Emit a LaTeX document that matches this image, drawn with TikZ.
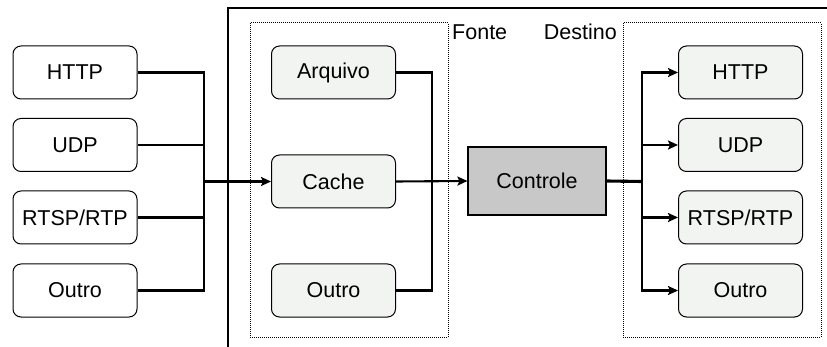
\documentclass[tikz,border=0pt]{standalone}
\usepackage{fontspec}
\setmainfont{Liberation Sans}
\usetikzlibrary{arrows.meta}
\definecolor{boxfill}{HTML}{F1F4F1}
\definecolor{ctrlfill}{HTML}{C8C8C8}
\tikzset{
  proto/.style={draw, line width=1pt, rounded corners=8pt, minimum width=124pt,
    minimum height=53pt, inner sep=0pt, font=\fontsize{21.5}{25}\selectfont},
  srcbox/.style={proto, fill=boxfill},
  ctrlbox/.style={draw, line width=1.1pt, fill=ctrlfill, minimum width=138pt,
    minimum height=68pt, inner sep=0pt, font=\fontsize{21.5}{25}\selectfont},
  group/.style={draw, densely dotted, line width=1pt, inner sep=0pt},
  grouplabel/.style={inner sep=0pt, font=\fontsize{21.5}{25}\selectfont},
  wire/.style={line width=2.1pt},
  bus/.style={line width=3.1pt},
  arr/.style={-{Stealth[length=10pt,width=9pt,inset=2pt]}}
}
\begin{document}
\begin{tikzpicture}[x=1pt,y=-1pt]
\useasboundingbox (0,0) rectangle (827,347);

% outer frame (only top and left edges fall inside the page)
\draw[line width=2.4pt] (228,347) -- (228,8) -- (827,8);

% dotted groups
\node[group, minimum width=198pt, minimum height=314pt] (fonte) at (349,180) {};
\node[group, minimum width=198pt, minimum height=314pt] (destino) at (722,180) {};
\node[grouplabel, anchor=west] (lblfonte) at (452,32) {Fonte};
\node[grouplabel, anchor=east] (lbldestino) at (617,32) {Destino};

% input protocols
\node[proto] (inhttp) at (75,72.5) {HTTP};
\node[proto] (inudp) at (75,145) {UDP};
\node[proto] (inrtsp) at (75,217.5) {RTSP/RTP};
\node[proto] (inoutro) at (75,290.5) {Outro};

% sources
\node[srcbox] (arquivo) at (333.5,72.5) {Arquivo};
\node[srcbox] (cache) at (333.5,181.5) {Cache};
\node[srcbox] (soutro) at (333.5,290.5) {Outro};

% control
\node[ctrlbox] (controle) at (537,181) {Controle};

% output protocols
\node[srcbox] (outhttp) at (740.5,72.5) {HTTP};
\node[srcbox] (outudp) at (740.5,145) {UDP};
\node[srcbox] (outrtsp) at (740.5,217.5) {RTSP/RTP};
\node[srcbox] (outoutro) at (740.5,290.5) {Outro};

% junction points
\coordinate (jin) at (204,181.5);
\coordinate (jsrc) at (432,181.5);
\coordinate (jout) at (642,181.5);

% inputs merge into the cache
\draw[wire] (inhttp.east) -| (jin);
\draw[wire] (inudp.east) -| (jin);
\draw[wire] (inrtsp.east) -| (jin);
\draw[wire] (inoutro.east) -| (jin);
\draw[bus, arr] (jin) -- (cache.west);

% sources merge into the control
\draw[wire] (arquivo.east) -| (jsrc);
\draw[wire] (soutro.east) -| (jsrc);
\draw[wire, arr] (cache.east) -- (controle.west);

% control fans out to the outputs
\draw[bus] (controle.east) -- (jout);
\draw[wire, arr] (jout) |- (outhttp.west);
\draw[wire, arr] (jout) |- (outudp.west);
\draw[wire, arr] (jout) |- (outrtsp.west);
\draw[wire, arr] (jout) |- (outoutro.west);
\end{tikzpicture}
\end{document}
